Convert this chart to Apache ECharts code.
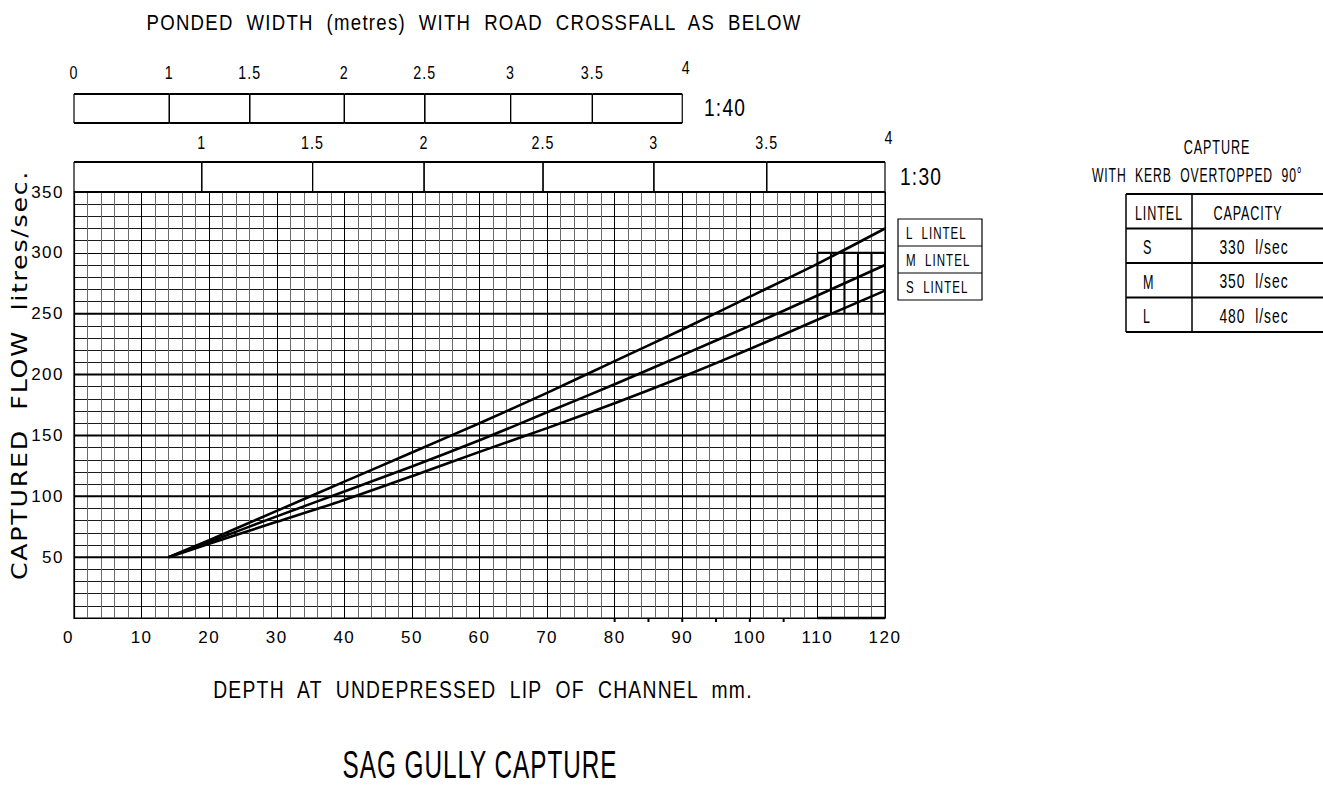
<!DOCTYPE html>
<html>
<head>
<meta charset="utf-8">
<script src="https://cdn.jsdelivr.net/npm/echarts@6/dist/echarts.min.js"></script>
<style>
  html, body { margin: 0; padding: 0; background: #fff; }
  #chart { width: 1323px; height: 790px; }
  #chart text { letter-spacing: 1.5px; }
</style>
</head>
<body>
<div id="chart"></div>
<script>
// Captured flow (litres/sec) against depth at the channel lip (mm), one curve per lintel
const depthPoints      = [14, 20, 30, 40, 50, 60, 70, 80, 90, 100, 110, 120];
const flowLargeLintel  = [50, 64, 88, 112, 136, 160, 185, 211, 237, 264, 291, 320];
const flowMediumLintel = [50, 62.5, 83.5, 104, 124.5, 146, 169, 192, 216, 240, 265, 290];
const flowSmallLintel  = [50, 61, 79, 97, 116.5, 136.5, 156, 176.5, 198, 221, 245, 269];
const lintelNames = ['L  LINTEL', 'M  LINTEL', 'S  LINTEL'];

// Ponded width scales: width label and the lip depth (mm) it lines up with
const crossfall40Widths = ['0', '1', '1.5', '2', '2.5', '3', '3.5', '4'];
const crossfall40Depths = [0, 14.1, 26.0, 40.0, 51.9, 64.6, 76.7, 90];
const crossfall30Widths = ['', '1', '1.5', '2', '2.5', '3', '3.5', '4'];
const crossfall30Depths = [0, 18.9, 35.3, 51.8, 69.4, 85.8, 102.5, 120];

// Axis ranges
const depthMin = 0, depthMax = 120, depthStep = 10;
const flowMin = 0, flowMax = 350, flowStep = 50;

// Heavier rulings and the hatched block at the top right of the curves
const boldFlowLines = [50, 100, 150, 200, 250];
const hatchDepths = [110, 112, 114, 116, 118, 120];
const hatchFlowRange = [250, 300];
const depthMarks = [80, 85, 90, 95, 100, 105];

// Capacity table
const tableLintels = ['S', 'M', 'L'];
const tableCapacities = [330, 350, 480];

const cadFont = "Liberation Sans, Arial, sans-serif";
const INK = '#000';

const chart = echarts.init(document.getElementById('chart'), null, { renderer: 'svg' });

const zip = (xs, ys) => xs.map((x, i) => [x, ys[i]]);

// text helper for graphic / custom elements (narrow drafting lettering)
function label(text, x, y, size, align, sx, extra) {
  return Object.assign({
    type: 'text', x, y, scaleX: sx || 1,
    style: {
      text, fill: INK, fontSize: size, fontFamily: cadFont,
      textAlign: align, textVerticalAlign: 'middle', align, verticalAlign: 'middle'
    }
  }, extra || {});
}

function curve(name, flows) {
  return {
    name, type: 'line', xAxisIndex: 0, yAxisIndex: 0,
    data: zip(depthPoints, flows),
    symbol: 'none', smooth: 0.25, z: 10,
    lineStyle: { color: INK, width: 2.6 },
    silent: true
  };
}

// a width bar: open cells between consecutive depths
function barCells(depths, gridIdx) {
  const cells = depths.slice(0, -1).map((d, i) => [d, depths[i + 1]]);
  return {
    type: 'custom', xAxisIndex: gridIdx, yAxisIndex: gridIdx, clip: false, silent: true,
    data: cells,
    renderItem(params, api) {
      const a = api.coord([api.value(0), 1]);
      const b = api.coord([api.value(1), 0]);
      return {
        type: 'group',
        children: [
          { type: 'line', shape: { x1: a[0], y1: a[1], x2: a[0], y2: b[1] }, style: { stroke: INK, lineWidth: 1.2 } },
          { type: 'line', shape: { x1: b[0], y1: a[1], x2: b[0], y2: b[1] }, style: { stroke: INK, lineWidth: 1.2 } },
          { type: 'line', shape: { x1: a[0], y1: a[1], x2: b[0], y2: a[1] }, style: { stroke: INK, lineWidth: 2 } },
          { type: 'line', shape: { x1: a[0], y1: b[1], x2: b[0], y2: b[1] }, style: { stroke: INK, lineWidth: 2 } }
        ]
      };
    }
  };
}

function barLabels(depths, labels, gridIdx, gap) {
  return {
    type: 'custom', xAxisIndex: gridIdx, yAxisIndex: gridIdx, clip: false, silent: true,
    data: depths.map((d, i) => [d, i]),
    renderItem(params, api) {
      const i = api.value(1);
      const p = api.coord([api.value(0), 1]);
      const last = i === labels.length - 1;
      return label(labels[i], p[0] + (last ? 4 : 0), p[1] - gap - (last ? 5 : 0), 19, 'center', 0.75);
    }
  };
}

const series = [
  curve('L LINTEL', flowLargeLintel),
  curve('M LINTEL', flowMediumLintel),
  curve('S LINTEL', flowSmallLintel),
  {
    // heavier flow rulings
    type: 'custom', xAxisIndex: 0, yAxisIndex: 0, silent: true, z: 5,
    data: boldFlowLines.map(v => [depthMin, v]),
    renderItem(params, api) {
      const a = api.coord([depthMin, api.value(1)]);
      const b = api.coord([depthMax, api.value(1)]);
      return { type: 'line', shape: { x1: a[0], y1: a[1], x2: b[0], y2: b[1] }, style: { stroke: INK, lineWidth: 2 } };
    }
  },
  {
    // hatched block
    type: 'custom', xAxisIndex: 0, yAxisIndex: 0, silent: true, z: 6,
    data: hatchDepths.map(d => [d, hatchFlowRange[0]]),
    renderItem(params, api) {
      const d = api.value(0);
      const a = api.coord([d, hatchFlowRange[0]]);
      const b = api.coord([d, hatchFlowRange[1]]);
      const children = [{ type: 'line', shape: { x1: a[0], y1: a[1], x2: b[0], y2: b[1] }, style: { stroke: INK, lineWidth: 2 } }];
      if (params.dataIndex === 0) {
        const c = api.coord([hatchDepths[hatchDepths.length - 1], hatchFlowRange[1]]);
        children.push({ type: 'line', shape: { x1: b[0], y1: b[1], x2: c[0], y2: c[1] }, style: { stroke: INK, lineWidth: 2 } });
        const e = api.coord([d, flowMin]);
        const f = api.coord([depthMax, flowMin]);
        children.push({ type: 'line', shape: { x1: e[0], y1: e[1], x2: f[0], y2: f[1] }, style: { stroke: INK, lineWidth: 2.5 } });
      }
      return { type: 'group', children };
    }
  },
  {
    // small marks under the depth axis
    type: 'custom', xAxisIndex: 0, yAxisIndex: 0, silent: true, clip: false,
    data: depthMarks.map(d => [d, flowMin]),
    renderItem(params, api) {
      const p = api.coord([api.value(0), flowMin]);
      return { type: 'line', shape: { x1: p[0], y1: p[1], x2: p[0], y2: p[1] + 4 }, style: { stroke: INK, lineWidth: 2 } };
    }
  },
  barCells(crossfall40Depths, 1),
  barLabels(crossfall40Depths, crossfall40Widths, 1, 21),
  barCells(crossfall30Depths, 2),
  barLabels(crossfall30Depths, crossfall30Widths, 2, 19)
];

// Lintel key box
const keyLeft = 898, keyTop = 219, keyW = 84, keyRow = 27;
const keyChildren = [
  { type: 'rect', shape: { x: keyLeft, y: keyTop, width: keyW, height: keyRow * lintelNames.length },
    style: { fill: '#fff', stroke: INK, lineWidth: 1.2 } }
];
lintelNames.forEach((n, i) => {
  if (i > 0) keyChildren.push({ type: 'line', shape: { x1: keyLeft, y1: keyTop + keyRow * i, x2: keyLeft + keyW, y2: keyTop + keyRow * i },
    style: { stroke: INK, lineWidth: 1.2 } });
  keyChildren.push(label(n, keyLeft + 8, keyTop + keyRow * i + keyRow / 2 + 1, 17, 'left', 0.68));
});

// Capacity table
const tLeft = 1126, tMid = 1192, tRight = 1340, tTop = 194, tRow = 34.5;
const tableChildren = [
  label('CAPTURE', 1217, 147, 21, 'center', 0.6),
  label('WITH  KERB  OVERTOPPED  90°', 1092, 175, 21, 'left', 0.58),
  { type: 'line', shape: { x1: tLeft, y1: tTop, x2: tLeft, y2: tTop + tRow * 4 }, style: { stroke: INK, lineWidth: 1.5 } },
  { type: 'line', shape: { x1: tMid, y1: tTop, x2: tMid, y2: tTop + tRow * 4 }, style: { stroke: INK, lineWidth: 1.5 } },
  label('LINTEL', 1159, tTop + tRow / 2 + 1, 21, 'center', 0.6),
  label('CAPACITY', 1248, tTop + tRow / 2 + 1, 21, 'center', 0.6)
];
for (let r = 0; r <= 4; r++) {
  tableChildren.push({ type: 'line', shape: { x1: tLeft, y1: tTop + tRow * r, x2: tRight, y2: tTop + tRow * r }, style: { stroke: INK, lineWidth: 2 } });
}
tableLintels.forEach((l, i) => {
  const cy = tTop + tRow * (i + 1) + tRow / 2 + 1;
  tableChildren.push(label(l, 1143, cy, 21, 'left', 0.6));
  tableChildren.push(label(tableCapacities[i] + '  l/sec', 1254, cy, 21, 'center', 0.66));
});

const plotLeft = 74, plotWidth = 811;

const option = {
  backgroundColor: '#fff',
  animation: false,
  grid: [
    { left: plotLeft, top: 192, width: plotWidth, height: 426, show: true, borderColor: INK, borderWidth: 1.2, backgroundColor: 'transparent' },
    { left: plotLeft, top: 94, width: plotWidth, height: 29 },
    { left: plotLeft, top: 162, width: plotWidth, height: 30 }
  ],
  xAxis: [
    {
      type: 'value', gridIndex: 0, min: depthMin, max: depthMax, interval: depthStep,
      axisLine: { show: true, onZero: false, lineStyle: { color: INK, width: 1.2 } },
      axisTick: { show: false },
      axisLabel: { color: INK, fontSize: 17, fontFamily: cadFont, margin: 11, alignMinLabel: 'right' },
      splitLine: { show: true, lineStyle: { color: INK, width: 1 } },
      minorTick: { show: false, splitNumber: 5 },
      minorSplitLine: { show: true, lineStyle: { color: '#6a6a6a', width: 1 } }
    },
    { type: 'value', gridIndex: 1, min: depthMin, max: depthMax, show: false },
    { type: 'value', gridIndex: 2, min: depthMin, max: depthMax, show: false }
  ],
  yAxis: [
    {
      type: 'value', gridIndex: 0, min: flowMin, max: flowMax, interval: flowStep,
      axisLine: { show: true, onZero: false, lineStyle: { color: INK, width: 1.2 } },
      axisTick: { show: false },
      axisLabel: { color: INK, fontSize: 17, fontFamily: cadFont, margin: 10, formatter: v => (v === flowMin ? '' : String(v)) },
      splitLine: { show: true, lineStyle: { color: INK, width: 1 } },
      minorTick: { show: false, splitNumber: 5 },
      minorSplitLine: { show: true, lineStyle: { color: '#1a1a1a', width: 1 } }
    },
    { type: 'value', gridIndex: 1, min: 0, max: 1, show: false },
    { type: 'value', gridIndex: 2, min: 0, max: 1, show: false }
  ],
  series,
  graphic: [
    label('PONDED  WIDTH  (metres)  WITH  ROAD  CROSSFALL  AS  BELOW', 474, 22, 22, 'center', 0.845),
    label('1:40', 704, 108, 24, 'left', 0.8),
    label('1:30', 900, 177, 24, 'left', 0.8),
    {
      type: 'text', x: 20, y: 375, rotation: Math.PI / 2, scaleX: 1.15,
      style: { text: 'CAPTURED  FLOW  litres/sec.', fill: INK, fontSize: 22, fontFamily: 'DejaVu Sans, sans-serif',
        textAlign: 'center', textVerticalAlign: 'middle', align: 'center', verticalAlign: 'middle' }
    },
    label('DEPTH  AT  UNDEPRESSED  LIP  OF  CHANNEL  mm.', 483, 690, 23, 'center', 0.84),
    label('SAG GULLY CAPTURE', 480, 765, 38, 'center', 0.64),
    { type: 'group', children: keyChildren },
    { type: 'group', children: tableChildren }
  ]
};

chart.setOption(option);
</script>
</body>
</html>
